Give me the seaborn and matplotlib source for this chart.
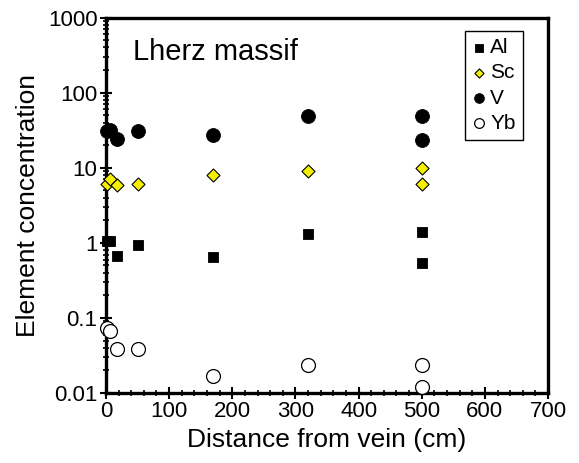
import numpy as np
import pandas as pd
import matplotlib
matplotlib.use("Agg")
import matplotlib.pyplot as plt
import seaborn as sns
from matplotlib.ticker import LogLocator, MultipleLocator, FixedLocator, FixedFormatter, NullFormatter

# Data
distance_cm = [2, 6, 17, 50, 170, 320, 500, 500]
al_conc = [1.05, 1.05, 0.67, 0.93, 0.645, 1.33, 1.38, 0.535]
sc_conc = [6.0, 7.0, 5.9, 6.0, 8.1, 9.1, 9.8, 6.0]
v_conc = [31, 32, 24.5, 31, 27.5, 49, 49, 23.5]
yb_conc = [0.074, 0.068, 0.039, 0.039, 0.0167, 0.0236, 0.0236, 0.012]

elements = ["Al", "Sc", "V", "Yb"]
y_ticks = [0.01, 0.1, 1, 10, 100, 1000]
y_tick_labels = ["0.01", "0.1", "1", "10", "100", "1000"]

sns.set_style("ticks")
plt.rcParams["font.family"] = ["Liberation Sans", "DejaVu Sans"]
plt.rcParams.update({
    "text.color": "black",
    "axes.labelcolor": "black",
    "xtick.color": "black",
    "ytick.color": "black",
})

df = pd.DataFrame({
    "distance": distance_cm * 4,
    "conc": al_conc + sc_conc + v_conc + yb_conc,
    "element": sum([[e] * len(distance_cm) for e in elements], []),
})

styles = {
    "Al": dict(marker="s", color="black", edgecolor="black", s=62, linewidth=0.6),
    "Sc": dict(marker="D", color="#f5f000", edgecolor="black", s=44, linewidth=0.8),
    "V": dict(marker="o", color="black", edgecolor="black", s=100, linewidth=0.6),
    "Yb": dict(marker="o", color="white", edgecolor="black", s=100, linewidth=0.9),
}

fig = plt.figure(figsize=(5.79, 4.63), dpi=100)
ax = fig.add_axes([0.183, 0.151, 0.7635, 0.811])

for el in elements:
    sub = df[df["element"] == el]
    sns.scatterplot(data=sub, x="distance", y="conc", ax=ax, label=el,
                    zorder=3, clip_on=False, **styles[el])

ax.set_yscale("log")
ax.set_ylim(0.01, 1000)
ax.set_xlim(0, 700)

ax.xaxis.set_major_locator(MultipleLocator(100))
ax.xaxis.set_minor_locator(MultipleLocator(20))
ax.yaxis.set_major_locator(FixedLocator(y_ticks))
ax.yaxis.set_major_formatter(FixedFormatter(y_tick_labels))
ax.yaxis.set_minor_locator(LogLocator(base=10, subs=np.arange(2, 10)))
ax.yaxis.set_minor_formatter(NullFormatter())

ax.tick_params(axis="both", which="major", direction="inout", length=8, width=1.5,
               labelsize=16, colors="black", pad=2)
ax.tick_params(axis="both", which="minor", direction="inout", length=5, width=1.2)

for side in ["left", "bottom", "right", "top"]:
    ax.spines[side].set_visible(True)
    ax.spines[side].set_linewidth(2.4)
    ax.spines[side].set_color("black")

ax.set_xlabel("Distance from vein (cm)", fontsize=19, labelpad=4, color="black")
ax.set_ylabel("Element concentration", fontsize=19, labelpad=6, color="black")

ax.text(0.061, 0.909, "Lherz massif", transform=ax.transAxes, fontsize=21,
        ha="left", va="center", color="black")

leg = ax.legend(loc="upper right", bbox_to_anchor=(0.943, 0.965), fontsize=15,
                markerscale=0.7, handlelength=0.6, handletextpad=0.25,
                borderpad=0.35, labelspacing=0.3, frameon=True, fancybox=False,
                borderaxespad=0)
leg.get_frame().set_edgecolor("black")
leg.get_frame().set_linewidth(1.0)
leg.get_frame().set_alpha(1)
for t in leg.get_texts():
    t.set_color("black")

plt.savefig("out.png", dpi=100)
plt.close()
